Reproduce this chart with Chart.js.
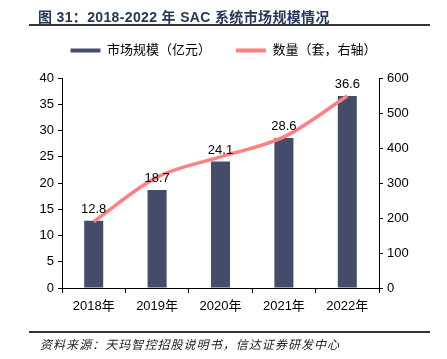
<!DOCTYPE html>
<html><head><meta charset="utf-8">
<script src="https://cdn.jsdelivr.net/npm/chart.js@4/dist/chart.umd.min.js"></script>
<style>
html,body{margin:0;padding:0;background:#fff;}
#wrap{position:relative;width:447px;height:359px;overflow:hidden;}
#title{position:absolute;left:38px;top:6px;font:bold 14px "Liberation Sans","Noto Sans CJK SC",sans-serif;color:#23375a;white-space:nowrap;letter-spacing:0.35px;}
#rule1{position:absolute;left:29px;top:24px;width:401px;height:2px;background:#333;}
#rule2{position:absolute;left:29px;top:331px;width:401px;height:2px;background:#333;}
#src{position:absolute;left:40px;top:335px;font:italic 12px "Noto Sans CJK SC",sans-serif;color:#222;white-space:nowrap;letter-spacing:1.05px;}
canvas{position:absolute;left:0;top:0;}
</style></head>
<body><div id="wrap">
<canvas id="c" width="447" height="359"></canvas>
<div id="title">图 31：2018-2022 年 SAC 系统市场规模情况</div>
<div id="rule1"></div>
<div id="rule2"></div>
<div id="src">资料来源：天玛智控招股说明书，信达证券研发中心</div>
</div>
<script>
const categories = ["2018年","2019年","2020年","2021年","2022年"];
const marketSize = [12.8, 18.7, 24.1, 28.6, 36.6];
const quantity = [190, 317, 375, 432, 549];
const leftTicks = {min:0, max:40, step:5};
const rightTicks = {min:0, max:600, step:100};

const FONT = '"Liberation Sans","Noto Sans CJK SC",sans-serif';

const barLabels = {
  id:'barLabels',
  afterDatasetsDraw(chart){
    const ctx = chart.ctx;
    const meta = chart.getDatasetMeta(0);
    ctx.save();
    ctx.font = '13px ' + FONT;
    ctx.fillStyle = '#000';
    ctx.textAlign = 'center';
    ctx.textBaseline = 'bottom';
    meta.data.forEach((el,i)=>{
      ctx.fillText(marketSize[i].toFixed(1), el.x, el.y - 5);
    });
    ctx.restore();
  }
};

new Chart(document.getElementById('c'), {
  data:{
    labels: categories,
    datasets:[
      {type:'bar', label:'市场规模（亿元）', data: marketSize, yAxisID:'y',
       backgroundColor:'#444c6a', borderWidth:0,
       barPercentage:0.6, categoryPercentage:0.5, order:2},
      {type:'line', label:'数量（套，右轴）', data: quantity, yAxisID:'y1',
       borderColor:'#ff8080', backgroundColor:'#ff8080', borderWidth:3.5,
       pointRadius:0, tension:0.4, cubicInterpolationMode:'monotone', order:1}
    ]
  },
  options:{
    responsive:false, animation:false,
    layout:{padding:{left:0,right:0,top:19,bottom:0}},
    plugins:{
      title:{display:true, text:' ', weight:500, font:{size:1}, padding:{top:0,bottom:10}},
      legend:{position:'top',
        labels:{font:{size:13,family:FONT}, color:'#000', boxWidth:30, boxHeight:4, padding:25,
          sort:(a,b)=>a.datasetIndex-b.datasetIndex,
          generateLabels(chart){
            const items = Chart.defaults.plugins.legend.labels.generateLabels(chart);
            items.forEach(it=>{ it.lineWidth = 0; });
            return items;
          }}},
      tooltip:{enabled:false}
    },
    scales:{
      x:{
        grid:{display:true, drawOnChartArea:false, offset:true, color:'#000', tickLength:5, tickColor:'#000'},
        border:{display:true, color:'#000', width:1},
        ticks:{font:{size:13,family:FONT}, color:'#000', padding:6},
        afterFit(s){ s.height = 71; }
      },
      y:{position:'left', min:leftTicks.min, max:leftTicks.max,
        ticks:{stepSize:leftTicks.step, font:{size:13,family:FONT}, color:'#000', padding:4},
        grid:{display:true, drawOnChartArea:false, color:'#000', tickLength:4},
        border:{display:true, color:'#000', width:1},
        afterFit(s){ s.width = 62; }
      },
      y1:{position:'right', min:rightTicks.min, max:rightTicks.max,
        ticks:{stepSize:rightTicks.step, font:{size:13,family:FONT}, color:'#000', padding:4},
        grid:{display:true, drawOnChartArea:false, color:'#000', tickLength:4},
        border:{display:true, color:'#000', width:1},
        afterFit(s){ s.width = 68; }
      }
    }
  },
  plugins:[barLabels]
});
</script>
</body></html>
